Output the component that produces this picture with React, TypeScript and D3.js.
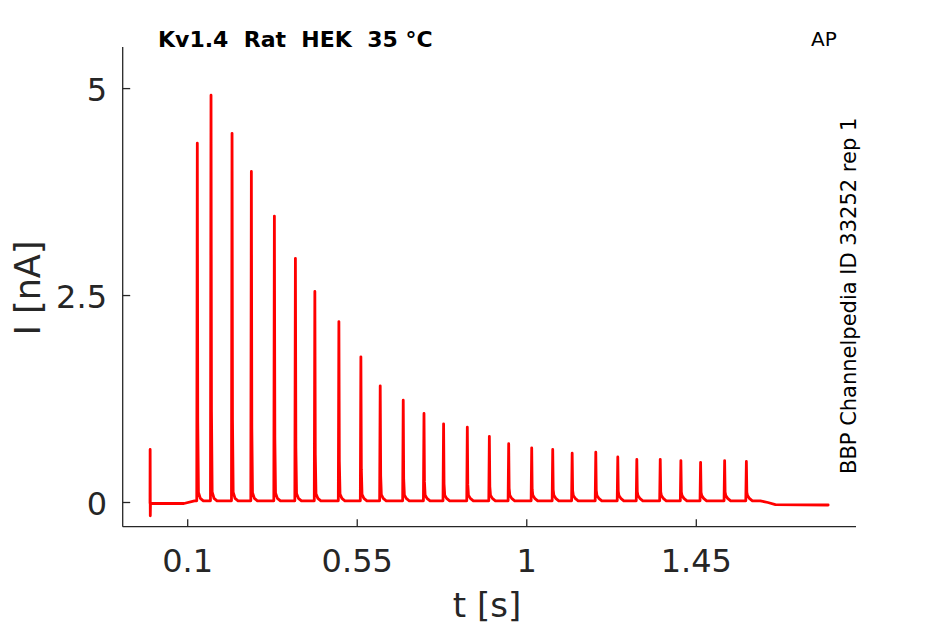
import React from 'react';
import * as d3 from 'd3';

// ---- data ----
const xTicks = [0.1, 0.55, 1, 1.45];
const xTickLabels = ['0.1', '0.55', '1', '1.45'];
const yTicks = [0, 2.5, 5];
const yTickLabels = ['0', '2.5', '5'];

// spike (AP-evoked current) peak times [s] and peak amplitudes [nA]
const spikeTimes = [
  0.1255, 0.1619, 0.2177, 0.269, 0.3301, 0.3859, 0.4375, 0.5013, 0.5597, 0.611,
  0.6721, 0.7272, 0.7792, 0.8422, 0.9007, 0.952, 1.0131, 1.0689, 1.1205, 1.1832,
  1.2416, 1.2921, 1.3543, 1.4091, 1.4614, 1.5252, 1.5829,
];
const spikePeaks = [
  4.34, 4.92, 4.46, 4.0, 3.46, 2.95, 2.55, 2.185, 1.76, 1.41,
  1.235, 1.075, 0.95, 0.91, 0.8, 0.71, 0.66, 0.64, 0.595, 0.607,
  0.55, 0.52, 0.522, 0.507, 0.485, 0.507, 0.495,
];
const trainBase = 0.02;

// trace before the spike train (includes the capacitive artifact at t = 0)
const preTimes = [0, 0.0003, 0.0007, 0.0012, 0.09, 0.118];
const preValues = [-0.01, 0.64, -0.16, -0.01, -0.012, 0.02];
// trace after the spike train
const postTimes = [1.62, 1.64, 1.66, 1.8];
const postValues = [0.02, 0.0, -0.025, -0.03];

// shape of one evoked current transient: time offset [s], fraction of amplitude, absolute offset [nA]
const kernelDt = [-0.0015, 0, 0.0012, 0.003, 0.008, 0.016];
const kernelFrac = [0, 1, 0.22, 0.01, 0, 0];
const kernelAbs = [0, 0, 0, 0.06, 0.03, 0];

const W = 945;
const H = 624;

export default function App() {
  const x = d3.scaleLinear().domain([0.1, 1.45]).range([187.7, 696.3]);
  const y = d3.scaleLinear().domain([0, 5]).range([502.5, 88.6]);
  const axLeft = 122.7;
  const axRight = 856;
  const axTop = 47;
  const axBottom = 526.7;

  const pts: [number, number][] = [];
  preTimes.forEach((t, i) => pts.push([t, preValues[i]]));
  spikeTimes.forEach((t, i) => {
    const amp = spikePeaks[i] - trainBase;
    kernelDt.forEach((dt, k) => {
      pts.push([t + dt, trainBase + kernelFrac[k] * amp + kernelAbs[k]]);
    });
  });
  postTimes.forEach((t, i) => pts.push([t, postValues[i]]));

  const line = d3
    .line<[number, number]>()
    .x((d) => x(d[0]))
    .y((d) => y(d[1]));

  const axisColor = '#262626';
  const font = 'DejaVu Sans';

  return (
    <svg
      width={W}
      height={H}
      viewBox={`0 0 ${W} ${H}`}
      style={{ position: 'absolute', left: 0, top: 0, background: '#fff' }}
      fontFamily={font}
    >
      <rect x={0} y={0} width={W} height={H} fill="#fff" />
      {/* trace */}
      <path
        d={line(pts) || ''}
        fill="none"
        stroke="#ff0000"
        strokeWidth={2.8}
        strokeLinejoin="round"
        strokeLinecap="round"
      />
      {/* axes */}
      <line x1={axLeft} x2={axLeft} y1={axTop} y2={axBottom} stroke={axisColor} strokeWidth={1.3} />
      <line x1={axLeft} x2={axRight} y1={axBottom} y2={axBottom} stroke={axisColor} strokeWidth={1.3} />
      {xTicks.map((t, i) => (
        <g key={'xt' + i}>
          <line x1={x(t)} x2={x(t)} y1={axBottom} y2={axBottom - 7.5} stroke={axisColor} strokeWidth={1.3} />
          <text x={x(t)} y={572} textAnchor="middle" fontSize={32} fill={axisColor}>
            {xTickLabels[i]}
          </text>
        </g>
      ))}
      {yTicks.map((v, i) => (
        <g key={'yt' + i}>
          <line x1={axLeft} x2={axLeft + 7.5} y1={y(v)} y2={y(v)} stroke={axisColor} strokeWidth={1.3} />
          <text x={107} y={y(v) + 12.5} textAnchor="end" fontSize={32} fill={axisColor}>
            {yTickLabels[i]}
          </text>
        </g>
      ))}
      {/* axis labels */}
      <text x={487} y={616.5} textAnchor="middle" fontSize={34} fill={axisColor}>
        t [s]
      </text>
      <text
        transform={`translate(40, 288) rotate(-90)`}
        textAnchor="middle"
        fontSize={35}
        fill={axisColor}
      >
        I [nA]
      </text>
      {/* title & annotations */}
      <text x={158} y={46.5} fontSize={22} fontWeight="bold" fill="#000">
        Kv1.4{'\u00a0\u00a0'}Rat{'\u00a0\u00a0'}HEK{'\u00a0\u00a0'}35 °C
      </text>
      <text x={811} y={45.5} fontSize={20} fill="#000">
        AP
      </text>
      <text
        transform={`translate(856, 474) rotate(-90)`}
        textAnchor="start"
        fontSize={21}
        fill="#000"
      >
        BBP Channelpedia ID 33252 rep 1
      </text>
    </svg>
  );
}
